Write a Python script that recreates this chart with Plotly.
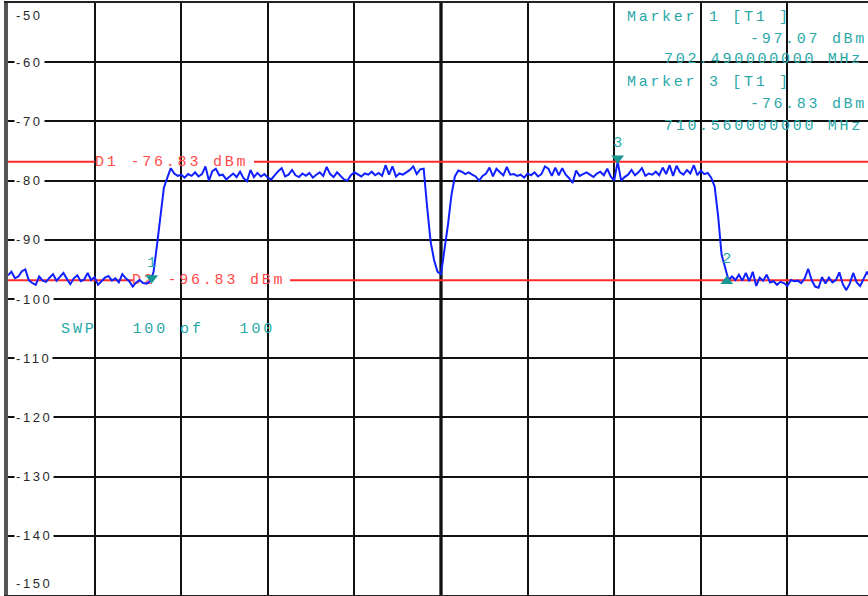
import numpy as np
import plotly.graph_objects as go

# ---------------- Data ----------------
start_mhz = 700.0
stop_mhz = 715.0
n_points = 251
ref_top = -50
ref_bottom = -150
div_mhz = 1.5

noise_left = [
    -96.0, -95.4, -96.5, -96.2, -95.3, -95.0, -96.8, -97.3, -97.6, -96.2,
    -96.9, -97.1, -96.4, -95.8, -96.9, -96.3, -95.6, -96.6, -97.5, -96.5,
    -96.0, -97.0, -96.7, -95.6, -96.8, -96.3, -97.6, -97.0, -96.4, -96.1,
    -96.9, -96.5, -97.2, -95.8, -96.5, -97.0, -97.9, -97.2, -96.8, -97.3,
    -97.4]
rise_left = [-97.0, -95.5, -91.0, -85.6, -81.2, -79.5, -77.9]
plateau_1 = [
    -78.8, -79.2, -79.0, -79.5, -78.9, -79.2, -78.6, -79.3, -78.9, -77.6,
    -80.0, -78.4, -78.0, -79.1, -79.0, -79.8, -79.3, -78.8, -79.4, -78.5,
    -79.6, -80.1, -78.2, -79.4, -78.7, -79.3, -78.9, -79.5, -79.8, -79.0,
    -78.4, -77.9, -79.3, -79.0, -78.2, -79.1, -79.4, -78.8, -79.2, -78.7,
    -79.5, -79.0, -78.6, -79.2, -77.7, -78.9, -79.4, -78.6, -79.2, -79.8,
    -80.0, -79.1, -78.6, -78.9, -79.3, -78.8, -79.0, -78.5, -79.1, -78.7,
    -79.2, -77.4, -79.0, -77.6, -79.3, -78.8, -79.0, -78.6, -78.2, -77.6,
    -78.9, -78.1, -78.0]
dip_center = [-84.5, -90.3, -93.4, -95.4, -95.8, -92.0, -87.5, -82.5, -79.3, -78.3]
plateau_2 = [
    -78.5, -78.9, -78.6, -79.0, -79.3, -80.0, -79.2, -78.8, -77.8, -79.3,
    -78.0, -78.6, -79.1, -77.7, -79.0, -78.9, -79.2, -79.0, -79.5, -78.8,
    -79.1, -78.6, -79.3, -78.9, -77.6, -78.0, -79.2, -77.8, -79.1, -77.9,
    -79.0, -79.6, -80.4, -78.3, -79.2, -78.9, -78.6, -79.0, -79.4, -78.8,
    -78.5, -79.1, -78.0, -79.3, -80.0, -76.8, -80.0, -79.4, -79.0, -78.2,
    -79.1, -78.6, -77.9, -79.2, -78.8, -79.0, -78.5, -79.1, -77.8, -78.9,
    -77.4, -79.2, -77.5, -78.6, -79.0, -78.2, -78.8, -77.4, -79.1, -78.3,
    -78.9, -78.7, -79.5]
fall_right = [-81.0, -86.0, -92.5, -94.5, -96.8]
noise_right = [
    -96.2, -96.8, -95.9, -96.9, -95.6, -97.0, -95.4, -97.8, -96.4, -96.9,
    -95.9, -97.2, -97.0, -97.6, -97.1, -97.3, -97.8, -96.8, -97.0, -96.9,
    -97.3, -96.5, -94.9, -96.8, -97.9, -98.1, -96.3, -97.4, -96.4, -97.2,
    -96.8, -95.5, -97.5, -98.5, -97.4, -95.6, -97.2, -97.8, -96.6, -95.4,
    -96.5, -96.9]

# Display lines
d1_level = -76.83
d2_level = -96.83

# Markers
marker_ids = ["1", "3", "2"]
marker_freq = [702.49, 710.56, 712.45]
marker_level = [-97.07, -76.83, -96.4]
marker_dir = ["down", "down", "up"]

y_ticks = [-50, -60, -70, -80, -90, -100, -110, -120, -130, -140, -150]
sweep_text = ["SWP", "100", "of", "100"]

# ---------------- Build ----------------
levels = (noise_left + rise_left + plateau_1 + dip_center + plateau_2
          + fall_right + noise_right)
freqs = np.linspace(start_mhz, stop_mhz, n_points)
assert len(levels) == n_points

W, H = 868, 596
L, R, T, B = 8, 0, 3, 1
PW = W - L - R
PH = H - T - B
px_per_mhz = 866 / (stop_mhz - start_mhz)
x_right = start_mhz + PW / px_per_mhz


def pxx(px):
    return (px - L) / PW


def pxy(py):
    return 1 - (py - T) / PH


def mhz_at(px):
    return start_mhz + (px - L) / px_per_mhz


def spaced(s, ls):
    return '<span style="letter-spacing:%spx">%s</span>' % (ls, s.replace(" ", "\u00a0"))


TEAL = "#2aa8a8"
TEAL_DARK = "#17978f"
RED = "#ff2a2a"
RED_TXT = "#ff4a4a"
BLUE = "#1020ff"
MONO = "Liberation Mono, DejaVu Sans Mono, monospace"

fig = go.Figure()

# D-line labels (drawn under the trace)
fig.add_trace(go.Scatter(
    x=[mhz_at(95), mhz_at(132)], y=[d1_level, d2_level], mode="text",
    text=[spaced("D1 %.2f dBm" % d1_level, 2.8), spaced("D2 %.2f dBm" % d2_level, 2.8)],
    textposition="middle right",
    textfont=dict(family=MONO, size=15, color=RED_TXT),
    hoverinfo="skip", showlegend=False))

# Spectrum trace
fig.add_trace(go.Scatter(
    x=freqs, y=levels, mode="lines",
    line=dict(color=BLUE, width=2), hoverinfo="skip", showlegend=False))

# Marker triangles
dn = [i for i, d in enumerate(marker_dir) if d == "down"]
up = [i for i, d in enumerate(marker_dir) if d == "up"]
fig.add_trace(go.Scatter(
    x=[marker_freq[i] for i in dn], y=[marker_level[i] + 0.6 for i in dn],
    mode="markers", marker=dict(symbol="triangle-down", size=11, color=TEAL_DARK),
    hoverinfo="skip", showlegend=False))
fig.add_trace(go.Scatter(
    x=[marker_freq[i] for i in up], y=[marker_level[i] - 0.6 for i in up],
    mode="markers", marker=dict(symbol="triangle-up", size=11, color=TEAL_DARK),
    hoverinfo="skip", showlegend=False))
fig.add_trace(go.Scatter(
    x=marker_freq, y=marker_level, mode="markers+text", text=marker_ids,
    textposition="top center",
    marker=dict(size=16, color="rgba(0,0,0,0)"),
    textfont=dict(family=MONO, size=15, color=TEAL),
    hoverinfo="skip", showlegend=False))

shapes = []
# display lines with gaps for labels
for lvl, gap0, gap1 in [(d1_level, 95, 254), (d2_level, 133, 290)]:
    shapes.append(dict(type="line", layer="between", xref="x", yref="y",
                       x0=start_mhz, x1=mhz_at(gap0), y0=lvl, y1=lvl,
                       line=dict(color=RED, width=2)))
    shapes.append(dict(type="line", layer="between", xref="x", yref="y",
                       x0=mhz_at(gap1), x1=stop_mhz, y0=lvl, y1=lvl,
                       line=dict(color=RED, width=2)))
# center line (thicker)
center = (start_mhz + stop_mhz) / 2
shapes.append(dict(type="line", layer="below", xref="x", yref="paper",
                   x0=center, x1=center, y0=0, y1=1,
                   line=dict(color="#666666", width=4)))

annotations = []
for v in y_ticks:
    shift = 0
    if v == ref_top:
        shift = -12
    elif v == ref_bottom:
        shift = 12
    annotations.append(dict(
        xref="paper", yref="y", x=pxx(14), y=v, xanchor="left", yanchor="middle",
        yshift=shift, showarrow=False, bgcolor="white" if shift == 0 else "rgba(0,0,0,0)",
        borderpad=1,
        text=spaced("%d" % v, 2.6),
        font=dict(family="Liberation Sans, Arial, sans-serif", size=13, color="#2a2a2a")))

info_lines = [
    ("Marker %s [T1 ]" % marker_ids[0], 625, 17),
    ("%.2f dBm" % marker_level[0], 748, 39),
    ("%.9f MHz" % marker_freq[0], 662, 60),
    ("Marker %s [T1 ]" % marker_ids[1], 625, 83),
    ("%.2f dBm" % marker_level[1], 748, 104),
    ("%.9f MHz" % marker_freq[1], 662, 126),
]
for txt, px, py in info_lines:
    annotations.append(dict(
        xref="paper", yref="paper", x=pxx(px), y=pxy(py), xanchor="left",
        yanchor="middle", showarrow=False, text=spaced(txt, 2.7),
        font=dict(family=MONO, size=15, color=TEAL)))

annotations.append(dict(
    xref="paper", yref="paper", x=pxx(59), y=pxy(329), xanchor="left",
    yanchor="middle", showarrow=False,
    text=spaced("%s   %s %s   %s" % tuple(sweep_text), 2.9),
    font=dict(family=MONO, size=15, color=TEAL)))

fig.update_layout(
    width=W, height=H,
    margin=dict(l=L, r=R, t=T, b=B, pad=0),
    paper_bgcolor="white", plot_bgcolor="white",
    showlegend=False, hovermode=False,
    shapes=shapes, annotations=annotations,
    xaxis=dict(range=[start_mhz, x_right], tick0=start_mhz, dtick=div_mhz,
               showgrid=True, gridcolor="#111111", gridwidth=2,
               showticklabels=False, ticks="", zeroline=False,
               showline=True, linecolor="#222222", linewidth=2, mirror=True,
               fixedrange=True),
    yaxis=dict(range=[ref_bottom, ref_top], tick0=ref_bottom, dtick=10,
               showgrid=True, gridcolor="#111111", gridwidth=2,
               showticklabels=False, ticks="", zeroline=False,
               showline=True, linecolor="#555555", linewidth=4, mirror=False,
               fixedrange=True),
)

fig.write_html(
    "out.html",
    config={"displayModeBar": False},
    post_script="document.body.style.margin='0px';document.body.style.overflow='hidden';",
)
